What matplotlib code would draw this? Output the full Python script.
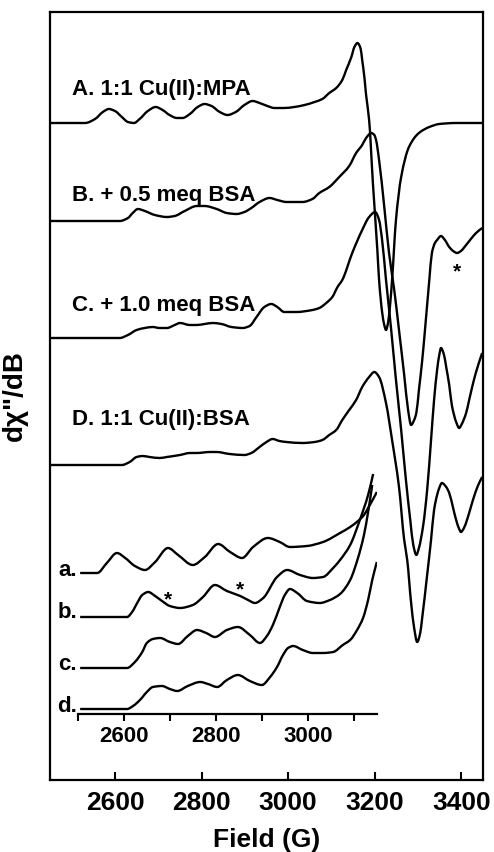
import matplotlib
matplotlib.use("Agg")
import numpy as np
import matplotlib.pyplot as plt
from matplotlib.path import Path
from matplotlib.patches import PathPatch

plt.rcParams['font.family'] = ['Liberation Sans', 'DejaVu Sans']
plt.rcParams['font.weight'] = 'bold'

# main spectra: field (G) and signal (arb. units, relative to own baseline)
field_A = [2450, 2531, 2554, 2572, 2586, 2600, 2616, 2630, 2644, 2657, 2676, 2694, 2710, 2726, 2743, 2756,
           2773, 2791, 2807, 2823, 2842, 2860, 2879, 2899, 2918, 2934, 2952, 2968, 2991, 3014, 3038, 3061,
           3079, 3095, 3111, 3125, 3134, 3146, 3153, 3160, 3167, 3171, 3176, 3180, 3187, 3196, 3206, 3210,
           3217, 3222, 3226, 3231, 3236, 3240, 3249, 3261, 3279, 3302, 3326, 3349, 3388, 3448]
sig_A = [0, 0, 4, 11, 14, 12, 6, 1, 0, 4, 12, 16, 13, 8, 5, 5,
         9, 16, 19, 17, 11, 8, 11, 18, 22, 20, 17, 15, 15, 16, 18, 21,
         24, 30, 35, 43, 53, 66, 76, 80, 75, 63, 46, 28, 3, -62, -127, -157,
         -189, -202, -207, -199, -179, -157, -97, -54, -24, -10, -4, -1, 0, 0]

field_B = [2450, 2611, 2630, 2641, 2653, 2669, 2692, 2720, 2738, 2761, 2789, 2807, 2835, 2858, 2881, 2899,
           2915, 2934, 2957, 2975, 2996, 3033, 3056, 3072, 3095, 3118, 3141, 3157, 3171, 3180, 3192, 3199,
           3203, 3210, 3222, 3233, 3245, 3256, 3268, 3277, 3284, 3291, 3296, 3302, 3309, 3316, 3326, 3332,
           3339, 3344, 3353, 3362, 3372, 3381, 3390, 3399, 3411, 3422, 3434, 3448]
sig_B = [0, 0, 3, 8, 12, 10, 6, 4, 5, 10, 15, 15, 12, 8, 7, 9,
         13, 19, 23, 21, 19, 19, 22, 28, 34, 44, 55, 68, 76, 83, 88, 86,
         81, 61, 14, -32, -69, -109, -154, -189, -204, -199, -192, -169, -142, -109, -59, -32,
         -22, -19, -15, -19, -26, -30, -32, -30, -24, -18, -12, -7]

field_C = [2450, 2611, 2630, 2650, 2669, 2687, 2703, 2720, 2738, 2750, 2773, 2789, 2807, 2826, 2846, 2869,
           2895, 2911, 2927, 2945, 2961, 2975, 2991, 3019, 3056, 3072, 3088, 3102, 3114, 3125, 3148, 3171,
           3187, 3201, 3210, 3217, 3226, 3238, 3249, 3261, 3272, 3282, 3289, 3296, 3302, 3312, 3321, 3330,
           3337, 3344, 3349, 3353, 3360, 3365, 3372, 3378, 3388, 3395, 3401, 3411, 3418, 3425, 3434, 3448]
sig_C = [0, 0, 3, 8, 10, 11, 10, 10, 13, 15, 13, 13, 14, 15, 14, 11,
         10, 12, 21, 31, 34, 31, 26, 26, 28, 30, 35, 41, 51, 58, 85, 108,
         121, 126, 118, 98, 58, 8, -42, -92, -142, -182, -207, -217, -210, -187, -152, -102,
         -62, -32, -17, -10, -17, -29, -47, -67, -84, -90, -86, -75, -62, -49, -34, -15]

field_D = [2450, 2616, 2634, 2650, 2664, 2680, 2703, 2720, 2750, 2773, 2789, 2819, 2835, 2865, 2899, 2915,
           2934, 2950, 2964, 2980, 2996, 3033, 3061, 3079, 3095, 3111, 3125, 3141, 3157, 3171, 3187, 3199,
           3210, 3226, 3240, 3256, 3268, 3275, 3284, 3291, 3298, 3305, 3309, 3321, 3330, 3337, 3344, 3349,
           3355, 3365, 3372, 3381, 3388, 3395, 3399, 3406, 3413, 3422, 3429, 3438, 3448]
sig_D = [0, 0, 3, 8, 9, 8, 7, 8, 10, 12, 12, 13, 13, 11, 10, 12,
         18, 23, 26, 24, 23, 22, 23, 25, 30, 35, 45, 55, 65, 78, 88, 93,
         88, 62, 25, -22, -75, -95, -138, -163, -177, -168, -155, -110, -75, -45, -30, -23,
         -18, -22, -28, -43, -55, -64, -67, -63, -55, -42, -32, -21, -12]

main_offsets = [657, 559, 442, 315]
main_labels = ["A. 1:1 Cu(II):MPA", "B. + 0.5 meq BSA", "C. + 1.0 meq BSA", "D. 1:1 Cu(II):BSA"]
main_label_y = [690, 585, 475, 360]

# inset: expanded low-field region
field_a = [2504, 2541, 2562, 2584, 2602, 2623, 2645, 2667, 2695, 2717, 2749, 2775, 2804, 2830, 2856, 2880,
           2912, 2938, 2960, 2997, 3032, 3069, 3091, 3108, 3121, 3130, 3141, 3149]
sig_a = [0, 0, 10, 20, 15, 7, 3, 11, 25, 18, 8, 16, 29, 21, 15, 26,
         35, 31, 26, 27, 31, 40, 46, 52, 58, 65, 74, 81]

field_b = [2504, 2606, 2617, 2628, 2639, 2652, 2667, 2682, 2699, 2721, 2749, 2771, 2797, 2823, 2852, 2869,
           2884, 2902, 2932, 2954, 2982, 3010, 3032, 3054, 3069, 3091, 3112, 3130, 3141]
sig_b = [0, 0, 5, 14, 22, 25, 21, 16, 11, 9, 12, 20, 32, 26, 21, 17,
         14, 19, 40, 47, 42, 39, 40, 49, 57, 72, 97, 122, 143]

field_c = [2504, 2606, 2623, 2639, 2649, 2662, 2678, 2699, 2717, 2738, 2758, 2778, 2797, 2823, 2847, 2873,
           2895, 2910, 2923, 2938, 2949, 2960, 2976, 2997, 3025, 3047, 3069, 3091, 3108, 3121, 3130, 3139]
sig_c = [0, 0, 6, 16, 25, 29, 30, 26, 24, 32, 38, 35, 31, 38, 41, 33,
         25, 32, 43, 61, 73, 79, 75, 67, 65, 68, 74, 88, 110, 133, 156, 183]

field_d = [2504, 2606, 2619, 2634, 2649, 2662, 2682, 2699, 2715, 2738, 2765, 2782, 2802, 2823, 2847, 2873,
           2899, 2917, 2932, 2945, 2956, 2967, 2988, 3010, 3032, 3054, 3075, 3091, 3106, 3119, 3130, 3139, 3149]
sig_d = [0, 0, 3, 9, 17, 22, 23, 20, 18, 23, 27, 25, 22, 29, 34, 28,
         24, 32, 42, 54, 61, 63, 59, 56, 56, 57, 64, 69, 79, 91, 109, 129, 147]

inset_offsets = [141, 97, 46, 5]
inset_labels = ["a.", "b.", "c.", "d."]
inset_label_y = [144, 101, 49, 8]


def smooth_trace(ax, x, y, lw=1.7):
    # draw the read points as a smooth (monotone cubic) bezier path
    x = np.asarray(x, float)
    y = np.asarray(y, float)
    h = np.diff(x)
    d = np.diff(y) / h
    m = np.zeros_like(y)
    m[0], m[-1] = d[0], d[-1]
    for i in range(1, len(x) - 1):
        if d[i - 1] * d[i] > 0:
            w1 = 2 * h[i] + h[i - 1]
            w2 = h[i] + 2 * h[i - 1]
            m[i] = (w1 + w2) / (w1 / d[i - 1] + w2 / d[i])
    verts = [(x[0], y[0])]
    codes = [Path.MOVETO]
    for i in range(len(x) - 1):
        verts += [(x[i] + h[i] / 3, y[i] + m[i] * h[i] / 3),
                  (x[i + 1] - h[i] / 3, y[i + 1] - m[i + 1] * h[i] / 3),
                  (x[i + 1], y[i + 1])]
        codes += [Path.CURVE4] * 3
    ax.add_patch(PathPatch(Path(verts, codes), fill=False, edgecolor='black',
                           lw=lw, joinstyle='round', capstyle='butt'))


fig = plt.figure(figsize=(4.94, 8.52), dpi=100)
ax = fig.add_axes([50 / 494, 72 / 852, 433 / 494, 768 / 852])

main = [(field_A, sig_A), (field_B, sig_B), (field_C, sig_C), (field_D, sig_D)]
for (f, s), off in zip(main, main_offsets):
    smooth_trace(ax, f, [v + off for v in s])
for lab, y in zip(main_labels, main_label_y):
    ax.text(2501, y, lab, fontsize=16, fontweight='bold', va='center', ha='left')
ax.text(3390, 508, '*', fontsize=15, fontweight='bold', ha='center', va='center')

ax.set_xlim(2450, 3450)
ax.set_ylim(0, 768)
ax.set_xticks([2600, 2800, 3000, 3200, 3400])
ax.set_yticks([])
ax.tick_params(axis='x', direction='in', length=6, width=1.5, labelsize=19, pad=8)
for lab in ax.get_xticklabels():
    lab.set_fontweight('bold')
for sp in ax.spines.values():
    sp.set_linewidth(1.6)
ax.set_xlabel('Field (G)', fontsize=19, fontweight='bold', labelpad=9)
ax.set_ylabel('d\u03c7"/dB', fontsize=20, fontweight='bold', labelpad=16)

# inset axes, only a bottom axis line
ins = fig.add_axes([78.3 / 494, 138 / 852, 299 / 494, 254 / 852])
ins.patch.set_alpha(0)
inset = [(field_a, sig_a), (field_b, sig_b), (field_c, sig_c), (field_d, sig_d)]
for (f, s), off in zip(inset, inset_offsets):
    smooth_trace(ins, f, [v + off for v in s])
for lab, y in zip(inset_labels, inset_label_y):
    ins.text(2497, y, lab, fontsize=16, fontweight='bold', va='center', ha='right')
ins.text(2695, 114, '*', fontsize=15, fontweight='bold', ha='center', va='center')
ins.text(2852, 124, '*', fontsize=15, fontweight='bold', ha='center', va='center')

ins.set_xlim(2500, 3150)
ins.set_ylim(0, 254)
ins.set_xticks([2600, 2800, 3000])
ins.set_xticks([2500, 2700, 2900, 3100], minor=True)
ins.set_yticks([])
ins.tick_params(axis='x', which='both', direction='out', length=5, width=1.5, labelsize=16, pad=4)
for lab in ins.get_xticklabels():
    lab.set_fontweight('bold')
for name in ['top', 'left', 'right']:
    ins.spines[name].set_visible(False)
ins.spines['bottom'].set_linewidth(1.6)

fig.savefig('out.png', dpi=100)
